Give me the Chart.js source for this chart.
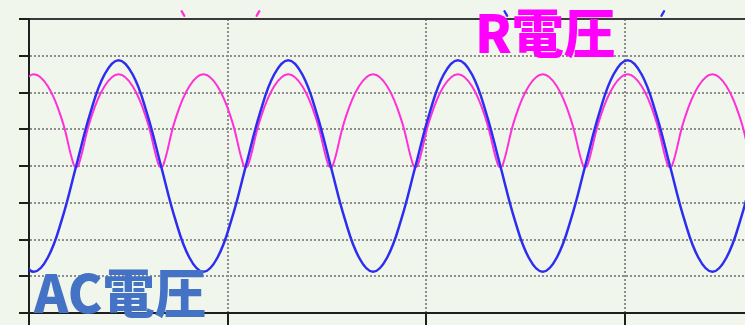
<!DOCTYPE html>
<html lang="ja">
<head>
<meta charset="utf-8">
<script src="https://cdn.jsdelivr.net/npm/chart.js@4/dist/chart.umd.min.js"></script>
<style>
  html, body { margin: 0; padding: 0; background: #f0f6ec; }
  #wrap { width: 745px; height: 325px; }
</style>
</head>
<body>
<div id="wrap"><canvas id="scope"></canvas></div>
<script>
// time in ms, voltage in divisions (20 ms/div, 1 div per grid step)
const acTimes = [
  -0.94, 0.48, 1.90, 3.33, 4.75, 6.17, 7.60, 9.02, 10.44, 11.87, 13.29, 14.71,
  16.14, 17.56, 18.98, 20.41, 21.83, 23.25, 24.68, 26.10, 27.52, 28.95, 30.37, 31.79,
  33.22, 34.64, 36.06, 37.49, 38.91, 40.33, 41.75, 43.18, 44.60, 46.02, 47.45, 48.87,
  50.30, 51.72, 53.14, 54.57, 55.99, 57.41, 58.84, 60.26, 61.68, 63.11, 64.53, 65.95,
  67.38, 68.80, 70.22, 71.65, 73.07,
];
const acVolts = [
  -2.49, -2.88, -2.49, -1.44, 0, 1.44, 2.49, 2.88, 2.49, 1.44, 0, -1.44,
  -2.49, -2.88, -2.49, -1.44, 0, 1.44, 2.49, 2.88, 2.49, 1.44, 0, -1.44,
  -2.49, -2.88, -2.49, -1.44, 0, 1.44, 2.49, 2.88, 2.49, 1.44, 0, -1.44,
  -2.49, -2.88, -2.49, -1.44, 0, 1.44, 2.49, 2.88, 2.49, 1.44, 0, -1.44,
  -2.49, -2.88, -2.49, -1.44, 0,
];

// rectified trace, with a short flat at each zero
const rTimes = [
  -0.94, 0.48, 1.90, 3.33, 4.55, 4.95, 6.17,
  7.60, 9.02, 10.44, 11.87, 13.09, 13.49, 14.71,
  16.14, 17.56, 18.98, 20.41, 21.63, 22.03, 23.25,
  24.68, 26.10, 27.52, 28.95, 30.17, 30.57, 31.79,
  33.22, 34.64, 36.06, 37.49, 38.71, 39.11, 40.33,
  41.75, 43.18, 44.60, 46.02, 47.25, 47.65, 48.87,
  50.30, 51.72, 53.14, 54.57, 55.79, 56.19, 57.41,
  58.84, 60.26, 61.68, 63.11, 64.33, 64.73, 65.95,
  67.38, 68.80, 70.22, 71.65, 72.87, 73.27,
];
const rVolts = [
  2.17, 2.5, 2.17, 1.25, 0, 0, 1.25,
  2.17, 2.5, 2.17, 1.25, 0, 0, 1.25,
  2.17, 2.5, 2.17, 1.25, 0, 0, 1.25,
  2.17, 2.5, 2.17, 1.25, 0, 0, 1.25,
  2.17, 2.5, 2.17, 1.25, 0, 0, 1.25,
  2.17, 2.5, 2.17, 1.25, 0, 0, 1.25,
  2.17, 2.5, 2.17, 1.25, 0, 0, 1.25,
  2.17, 2.5, 2.17, 1.25, 0, 0, 1.25,
  2.17, 2.5, 2.17, 1.25, 0, 0,
];

// little trace stubs poking out above the top frame
const rStubTimes = [15.5, 23.05];
const rStubVolts = [4.15, 4.15];
const acStubTimes = [48.0, 63.8];
const acStubVolts = [4.15, 4.15];

const seriesNames = ["AC電圧", "R電圧"];
const timeTicks = [0, 20, 40, 60];

const AC_COLOR = "#2d2df2";
const R_COLOR = "#ff30d8";
const GRID = "#8f8f8f";
const AXIS = "#1e1e1e";

const toPoints = (xs, ys) => xs.map((x, i) => ({ x, y: ys[i] }));

const captions = {
  id: "captions",
  afterDraw: (chart) => {
    const c = chart.ctx;
    const { x, y } = chart.scales;

    // stubs: short slanted strokes
    const stub = (t, v, color, angle) => {
      const px = x.getPixelForValue(t);
      const py = y.getPixelForValue(v);
      const dx = Math.cos(angle) * 2.6;
      const dy = Math.sin(angle) * 2.6;
      c.save();
      c.strokeStyle = color;
      c.lineWidth = 2.4;
      c.lineCap = "round";
      c.beginPath();
      c.moveTo(px - dx, py - dy);
      c.lineTo(px + dx, py + dy);
      c.stroke();
      c.restore();
    };
    rStubTimes.forEach((t, i) => stub(t, rStubVolts[i], R_COLOR, i === 0 ? 1.05 : -1.05));
    acStubTimes.forEach((t, i) => stub(t, acStubVolts[i], AC_COLOR, i === 0 ? 1.05 : -1.05));

    c.save();
    c.font = "900 52px 'Noto Sans CJK JP'";
    c.textBaseline = "alphabetic";
    c.fillStyle = "#ff00ff";
    c.fillText(seriesNames[1], 475, 53);
    c.fillStyle = "#4472c4";
    c.fillText(seriesNames[0], 34, 313);
    c.restore();
  },
};

new Chart(document.getElementById("scope"), {
  type: "line",
  data: {
    datasets: [
      {
        label: seriesNames[0],
        data: toPoints(acTimes, acVolts),
        borderColor: AC_COLOR,
        borderWidth: 2.5,
        pointRadius: 0,
        tension: 0.4,
        borderJoinStyle: "round",
      },
      {
        label: seriesNames[1],
        data: toPoints(rTimes, rVolts),
        borderColor: R_COLOR,
        borderWidth: 2,
        pointRadius: 0,
        tension: 0.4,
        borderJoinStyle: "round",
      },
    ],
  },
  options: {
    responsive: true,
    maintainAspectRatio: false,
    animation: false,
    layout: { padding: 0 },
    plugins: {
      legend: { display: false },
      tooltip: { enabled: false },
    },
    scales: {
      x: {
        type: "linear",
        min: 0,
        max: 72.08,
        afterFit: (s) => { s.height = 12; },
        afterBuildTicks: (s) => { s.ticks = timeTicks.map((v) => ({ value: v })); },
        ticks: { display: false },
        grid: { color: GRID, lineWidth: 2, tickLength: 12, tickColor: AXIS, tickWidth: 2 },
        border: { color: AXIS, width: 2, dash: [2, 2] },
      },
      xTop: {
        type: "linear",
        position: "top",
        min: 0,
        max: 72.08,
        afterFit: (s) => { s.height = 19; },
        ticks: { display: false },
        grid: { display: false },
        border: { color: "#3a3a3a", width: 2 },
      },
      y: {
        min: -4,
        max: 4,
        afterFit: (s) => { s.width = 29; },
        ticks: { display: false, stepSize: 1 },
        grid: { color: GRID, lineWidth: 2, tickLength: 10, tickColor: AXIS, tickWidth: 2 },
        border: { color: AXIS, width: 2, dash: [2, 2] },
      },
    },
  },
  plugins: [captions],
});
</script>
</body>
</html>
